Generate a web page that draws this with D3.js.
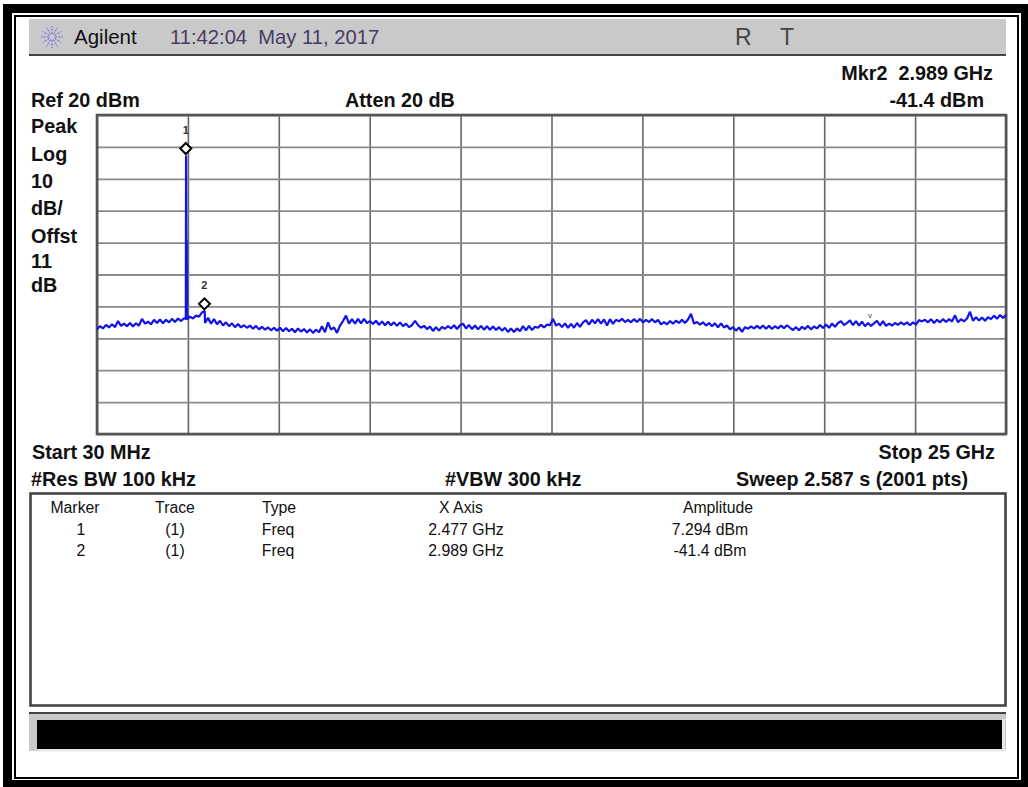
<!DOCTYPE html>
<html>
<head>
<meta charset="utf-8">
<script src="https://cdn.jsdelivr.net/npm/d3@7/dist/d3.min.js"></script>
<style>
html,body{margin:0;padding:0;background:#fff;overflow:hidden}
svg{display:block}
text{font-family:"Liberation Sans",Arial,sans-serif}
.b{font-weight:700;font-size:19.8px;fill:#111}
.t{font-size:15.8px;fill:#111}
</style>
</head>
<body>
<svg id="c" width="1028" height="787"></svg>
<script>
const startGHz = 0.03, stopGHz = 25;
const refDbm = 20, dbPerDiv = 10, divisions = 10;

// Swept noise floor from left to right
const sweepLevels = [
-47.2,-46.2,-46.9,-45.8,-46.6,-45.6,-46.5,-44.6,-46.1,-45.4,
-46.2,-45.2,-46.3,-45.3,-46.0,-43.9,-45.4,-44.8,-45.6,-44.2,
-45.2,-44.1,-45.3,-44.2,-45.0,-43.9,-44.9,-43.8,-44.6,-43.7,
-44.1,-43.2,-43.8,-42.9,-43.2,-41.9,-45.2,-43.6,-45.4,-44.0,
-45.6,-44.5,-46.0,-45.0,-46.2,-45.3,-46.5,-45.5,-46.6,-45.9,
-46.7,-46.0,-47.0,-46.1,-47.2,-46.4,-47.3,-46.6,-47.5,-46.7,
-47.6,-46.7,-47.8,-46.8,-47.8,-47.0,-48.1,-46.9,-47.9,-47.1,
-48.2,-47.2,-48.3,-47.3,-48.1,-46.2,-48.1,-45.0,-47.3,-46.6,
-48.3,-46.0,-44.6,-42.9,-45.4,-44.0,-45.4,-43.9,-45.3,-43.9,
-45.2,-44.6,-45.5,-44.5,-45.8,-44.7,-45.9,-44.8,-45.9,-45.0,
-46.1,-45.0,-46.2,-45.4,-46.5,-45.9,-44.5,-45.9,-46.7,-46.1,
-47.1,-46.3,-47.7,-46.5,-47.6,-46.4,-47.0,-46.2,-46.9,-45.9,
-47.1,-45.9,-45.4,-46.9,-45.8,-47.1,-46.0,-47.2,-46.1,-47.3,
-46.2,-47.3,-46.3,-47.4,-46.5,-47.6,-46.7,-48.0,-46.9,-48.0,
-46.9,-47.8,-46.2,-47.5,-46.1,-47.4,-46.4,-46.7,-45.8,-46.6,
-45.7,-45.9,-43.9,-46.0,-45.4,-46.5,-45.3,-46.7,-45.5,-46.7,
-45.2,-46.4,-45.0,-44.3,-45.7,-44.2,-45.3,-44.0,-45.4,-44.1,
-46.0,-44.0,-45.5,-44.2,-44.7,-43.9,-44.9,-44.2,-45.0,-44.0,
-44.9,-43.9,-45.0,-44.2,-44.9,-44.0,-45.0,-44.2,-45.6,-44.9,
-45.6,-44.6,-45.4,-44.5,-45.2,-44.2,-45.2,-44.1,-42.3,-45.4,
-44.9,-45.7,-45.0,-46.0,-45.2,-46.2,-45.3,-46.6,-45.3,-46.6,
-46.0,-47.2,-46.5,-47.6,-46.6,-48.0,-46.5,-47.0,-46.3,-46.9,
-46.1,-46.9,-46.0,-47.0,-46.1,-47.1,-46.2,-46.9,-46.0,-46.8,
-45.9,-46.7,-47.4,-46.5,-47.5,-46.4,-47.1,-46.1,-47.2,-46.3,
-46.9,-45.8,-46.8,-45.7,-46.7,-45.4,-46.4,-45.2,-44.6,-45.9,
-45.2,-44.4,-45.9,-44.6,-46.0,-44.8,-46.2,-45.2,-46.1,-45.3,
-44.5,-46.0,-44.6,-46.1,-45.4,-46.0,-45.2,-45.8,-45.0,-45.7,
-45.0,-45.9,-45.0,-45.7,-44.3,-44.7,-44.2,-45.0,-44.0,-45.2,
-44.2,-45.0,-44.0,-44.9,-44.0,-44.7,-42.8,-45.0,-44.0,-44.7,
-43.8,-41.7,-44.5,-43.4,-44.4,-43.5,-44.5,-43.4,-44.0,-42.9,
-43.9,-42.7,-43.6,-42.6];

// Carrier spike and marker points
const spikeFreqs  = [2.47, 2.477, 2.485, 2.495, 2.989];
const spikeLevels = [-43.9, 7.294, -19.0, -19.4, -41.4];

const markerIds    = ["1", "2"];
const markerTraces = ["(1)", "(1)"];
const markerTypes  = ["Freq", "Freq"];
const markerFreqs  = [2.477, 2.989];
const markerXText  = ["2.477 GHz", "2.989 GHz"];
const markerLevels = [7.294, -41.4];
const markerAmps   = ["7.294 dBm", "-41.4 dBm"];
const tableHeads   = ["Marker", "Trace", "Type", "X Axis", "Amplitude"];
const tableCols    = [75, 175, 279, 461, 718];

const svg = d3.select("#c");
const addRect = (x,y,w,h,fill) => svg.append("rect").attr("x",x).attr("y",y).attr("width",w).attr("height",h).attr("fill",fill);
const label = (s,x,y,cls,anchor) => svg.append("text").attr("x",x).attr("y",y).attr("class",cls).attr("text-anchor",anchor||"start").text(s);

// Frame
addRect(3,4,1025,783,"#000");
addRect(12,13,1009,767,"#fff");
addRect(14,15,1005,764,"#000");
addRect(16,17,1001,760,"#fff");

// Header bar
addRect(29,19,977,35,"#c9c9c9");
addRect(29,54,977,2,"#444");
const logo = svg.append("g").attr("transform","translate(52,37)");
d3.range(12).forEach(k=>{
  const a = k*Math.PI/6;
  logo.append("line").attr("x1",3*Math.cos(a)).attr("y1",3*Math.sin(a))
    .attr("x2",11*Math.cos(a)).attr("y2",11*Math.sin(a))
    .attr("stroke","#5a5ae6").attr("stroke-width",1).attr("stroke-dasharray","2 1.5");
});
svg.append("text").attr("x",74).attr("y",44).attr("font-size",20.5).attr("fill","#111").text("Agilent");
svg.append("text").attr("x",170).attr("y",44).attr("font-size",20.2).attr("fill","#4a3a66").attr("xml:space","preserve").text("11:42:04  May 11, 2017");
svg.append("text").attr("x",735).attr("y",45).attr("font-size",23).attr("fill","#444").text("R");
svg.append("text").attr("x",780).attr("y",45).attr("font-size",23).attr("fill","#444").text("T");

// Readouts
label("Mkr2  2.989 GHz",993,80,"b","end").attr("xml:space","preserve");
label("Ref 20 dBm",31,107,"b");
label("Atten 20 dB",345,107,"b");
label("-41.4 dBm",984,107,"b","end");
[["Peak",133],["Log",161],["10",188],["dB/",215],["Offst",243],["11",268],["dB",292]].forEach(d=>label(d[0],31,d[1],"b"));
label("Start 30 MHz",32,459,"b");
label("Stop 25 GHz",995,459,"b","end");
label("#Res BW 100 kHz",31,486,"b");
label("#VBW 300 kHz",445,486,"b");
label("Sweep 2.587 s (2001 pts)",968,486,"b","end");

// Plot
const plotL=97, plotR=1006, plotT=115, plotB=434;
const x = d3.scaleLinear().domain([startGHz,stopGHz]).range([plotL,plotR]);
const y = d3.scaleLinear().domain([refDbm,refDbm-dbPerDiv*divisions]).range([plotT,plotB]);
const xTicks = d3.range(divisions+1).map(i=>startGHz+i*(stopGHz-startGHz)/divisions);
const yTicks = d3.range(divisions+1).map(i=>refDbm-i*dbPerDiv);

const gx = svg.append("g").attr("transform",`translate(0,${plotB})`)
  .call(d3.axisBottom(x).tickValues(xTicks).tickSizeOuter(0).tickFormat(""));
gx.selectAll(".tick line").attr("y2",-(plotB-plotT)).attr("stroke","#666").attr("stroke-width",1.6);
gx.select(".domain").remove();
const gy = svg.append("g").attr("transform",`translate(${plotL},0)`)
  .call(d3.axisLeft(y).tickValues(yTicks).tickSize(-(plotR-plotL)).tickSizeOuter(0).tickFormat(""));
gy.selectAll(".tick line").attr("stroke","#8a8a8a").attr("stroke-width",1.8);
gy.select(".domain").remove();
svg.append("rect").attr("x",plotL).attr("y",plotT).attr("width",plotR-plotL).attr("height",plotB-plotT)
  .attr("fill","none").attr("stroke","#555").attr("stroke-width",2.6);

// Trace
const sweep = sweepLevels.map((v,i)=>({f:startGHz+i*(stopGHz-startGHz)/(sweepLevels.length-1),v}));
const spike = spikeFreqs.map((f,i)=>({f,v:spikeLevels[i]}));
const trace = sweep.concat(spike).sort((a,b)=>a.f-b.f);
svg.append("path").datum(trace).attr("fill","none").attr("stroke","#1212ea").attr("stroke-width",2.2)
  .attr("stroke-linejoin","bevel")
  .attr("d",d3.line().x(d=>x(d.f)).y(d=>y(d.v)));

// Markers: the diamond sits just above the trace point
markerFreqs.forEach((f,i)=>{
  const mx=x(f)-0.3, my=y(markerLevels[i])-7;
  const r=5.5;
  svg.append("path").attr("d",`M${mx-r},${my}L${mx},${my-r}L${mx+r},${my}L${mx},${my+r}Z`)
    .attr("fill","#fff").attr("stroke","#000").attr("stroke-width",2);
  svg.append("text").attr("x",mx).attr("y",my-15).attr("text-anchor","middle")
    .attr("font-size",11).attr("font-weight",700).attr("fill","#333").text(markerIds[i]);
});
svg.append("text").attr("x",870).attr("y",318).attr("text-anchor","middle").attr("font-size",8).attr("fill","#444").text("v");

// Marker table
svg.append("rect").attr("x",30.5).attr("y",493.5).attr("width",975).attr("height",212)
  .attr("fill","#fff").attr("stroke","#444").attr("stroke-width",2.6);
tableHeads.forEach((h,i)=>label(h,tableCols[i],513,"t","middle"));
const rowY=[534.5,555.5];
const rowX=[81,175,278,466,710];
markerIds.forEach((id,r)=>{
  [id,markerTraces[r],markerTypes[r],markerXText[r],markerAmps[r]].forEach((s,c)=>{
    label(s,rowX[c],rowY[r],"t","middle");
  });
});

// Bottom status bar
addRect(29,712,977,2,"#444");
addRect(29,714,977,37,"#c9c9c9");
addRect(37,720,965,29,"#000");
addRect(37,749,969,2.5,"#e6e6e6");
addRect(1002,719,3,31,"#e6e6e6");
</script>
</body>
</html>
